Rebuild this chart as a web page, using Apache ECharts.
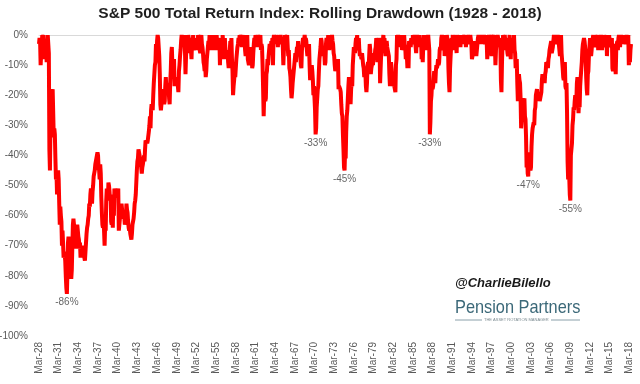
<!DOCTYPE html>
<html>
<head>
<meta charset="utf-8">
<script src="https://cdn.jsdelivr.net/npm/echarts@6/dist/echarts.min.js"></script>
<style>
html,body{margin:0;padding:0;background:#fff;}
#chart{width:640px;height:384px;}
</style>
</head>
<body>
<div id="chart"></div>
<script>
// Monthly rolling drawdown (%) of the S&P 500 total return index, starting Mar-1928
const dd1920s = [
  -3, -1, -2, -10, -6, -3, 0, -2, 0, -8,                // 1928 Mar-Dec
  -2, -4, -8, -2, -9, -3, 0, 0, -6, -38, -45, -30      // 1929
];
const dd1930s = [
  -27, -22, -19, -18, -26, -34, -31, -33, -41, -48, -46, -53, // 1930
  -49, -45, -48, -56, -63, -57, -60, -62, -70, -65, -69, -74, // 1931
  -72, -73, -75, -80, -84, -86, -79, -69, -67, -73, -76, -74, // 1932
  -77, -81, -78, -70, -63, -61, -63, -66, -68, -71, -67, -66, // 1933
  -63, -65, -67, -68, -71, -69, -74, -71, -73, -72, -70, -71, // 1934
  -72, -74, -75, -72, -69, -66, -64, -63, -61, -60, -56, -57, // 1935
  -53, -51, -53, -56, -52, -50, -47, -46, -45, -43, -42, -42, // 1936
  -40, -39, -40, -44, -45, -48, -43, -46, -54, -59, -63, -64, // 1937
  -62, -65, -70, -63, -65, -55, -51, -53, -55, -49, -50, -52, // 1938
  -55, -53, -62, -63, -60, -64, -55, -60, -51, -52, -54, -53  // 1939
];
const dd1940s = [
  -54, -53, -52, -51, -65, -63, -61, -59, -58, -56, -58, -59, // 1940
  -60, -61, -60, -63, -62, -60, -56, -58, -59, -62, -64, -65, // 1941
  -64, -66, -67, -68, -66, -63, -62, -61, -59, -56, -55, -53, // 1942
  -49, -45, -42, -41, -38, -39, -40, -43, -42, -42, -46, -44, // 1943
  -43, -43, -40, -42, -38, -35, -36, -35, -36, -35, -35, -32, // 1944
  -30, -27, -31, -25, -23, -24, -25, -20, -16, -13, -10, -9,  // 1945
  -3, -8, -2, 0, -1, -4, -7, -13, -23, -25, -23, -21,         // 1946
  -18, -19, -21, -23, -22, -17, -14, -18, -19, -16, -18, -17, // 1947
  -21, -23, -16, -12, -6, -4, -10, -13, -12, -8, -17, -15,    // 1948
  -14, -17, -14, -15, -17, -19, -12, -10, -7, -5, -2, 0       // 1949
];
const dd1950s = [
  -1, -3, -1, -4, 0, -5, -13, -7, -3, -1, -4, 0,     // 1950
  -1, -3, -6, -1, -5, -8, -2, -3, 0, -5, -4, -1,     // 1951
  -2, -5, -1, -5, -3, 0, -2, -4, -5, -6, -1, 0,      // 1952
  -3, -4, -6, -9, -10, -12, -10, -14, -12, -8, -6, -4, // 1953
  -2, -4, 0, -3, -5, -1, -2, -5, 0, -3, -1, -2,      // 1954
  -4, -1, -5, 0, -3, -1, -2, -4, -1, -10, -3, -1,    // 1955
  -5, -3, 0, -3, -8, -5, -1, -5, -8, -6, -8, -5,     // 1956
  -9, -11, -8, -5, -2, -4, -1, -8, -12, -20, -17, -15, // 1957
  -12, -14, -11, -8, -6, -4, -3, -1, -3, 0, -2, -1,  // 1958
  0, -4, -1, -2, 0, -4, -1, -5, -7, -5, -3, 0        // 1959
];
const dd1960s = [
  -8, -9, -10, -9, -6, -4, -8, -5, -11, -10, -6, -3,  // 1960
  -1, -3, 0, -2, -1, -4, 0, -2, -4, -1, -2, 0,        // 1961
  -5, -3, -4, -10, -18, -27, -20, -19, -22, -21, -13, -12, // 1962
  -8, -10, -7, -5, -3, -5, -6, -2, -4, -1, -10, -1,   // 1963
  0, -2, -1, -3, 0, -2, -1, -4, 0, -2, -3, -1,        // 1964
  0, -2, -3, -1, -4, -10, -5, -3, 0, -2, -1, -2,      // 1965
  0, -4, -7, -5, -11, -12, -14, -18, -21, -19, -16, -16, // 1966
  -12, -10, -8, -6, -9, -6, -4, -5, -2, -6, -7, -4,   // 1967
  -7, -10, -11, -5, -3, -1, -4, -2, 0, -2, -1, -2,    // 1968
  -5, -7, -6, -4, -3, -10, -15, -12, -13, -10, -12, -15 // 1969
];
const dd1970s = [
  -20, -17, -17, -25, -33, -31, -24, -21, -18, -17, -12, -8, // 1970
  -6, -4, -1, -2, -5, -4, -7, -4, -6, -10, -9, -3,           // 1971
  -1, -2, -4, 0, -3, -5, -3, -1, -4, -2, 0, -2,              // 1972
  -3, -6, -7, -10, -12, -11, -9, -12, -9, -8, -18, -17,      // 1973
  -17, -18, -19, -23, -26, -27, -33, -38, -44, -45, -38, -41, // 1974
  -32, -27, -25, -21, -17, -14, -19, -20, -23, -18, -16, -17, // 1975
  -10, -7, -4, -5, -6, -3, -1, -3, 0, -4, -5, -1,            // 1976
  -5, -7, -6, -7, -8, -6, -8, -10, -11, -14, -11, -12,       // 1977
  -17, -19, -16, -10, -9, -11, -7, -3, -5, -13, -11, -10,    // 1978
  -7, -10, -6, -7, -8, -5, -4, -1, -3, -9, -6, -4            // 1979
];
const dd1980s = [
  -1, -3, -16, -11, -6, -4, -1, -2, 0, -3, -1, -5,     // 1980
  -7, -5, -2, -4, -5, -6, -7, -13, -17, -12, -9, -11,  // 1981
  -14, -17, -16, -13, -17, -18, -19, -10, -8, 0, -2, 0, // 1982
  0, -3, -1, -2, -4, 0, -5, -4, -1, -3, 0, -3,         // 1983
  -4, -8, -6, -7, -11, -9, -11, -2, -3, -2, -4, -1,    // 1984
  -1, -3, 0, -2, -1, 0, -2, -4, -6, -1, 0, -2,         // 1985
  0, -3, 0, -4, -1, -2, -8, -1, -9, -3, 0, -4,         // 1986
  0, -1, -3, -5, -1, -2, 0, 0, -5, -33, -29, -22,      // 1987
  -20, -16, -18, -17, -17, -12, -13, -16, -12, -10, -11, -10, // 1988
  -8, -10, -9, -5, -4, -5, -1, 0, -2, -4, -2, 0        // 1989
];
const dd1990s = [
  -7, -5, -3, -6, 0, -1, -2, -11, -16, -19, -11, -7,   // 1990
  -4, -1, -2, 0, -3, -5, -1, -2, 0, -3, -6, 0,         // 1991
  -2, -1, -3, -2, -1, -4, 0, -3, -1, -3, 0, -1,        // 1992
  0, -3, -1, -4, 0, -2, -3, 0, -2, -1, -3, 0,          // 1993
  0, -3, -8, -7, -5, -7, -5, -2, -5, -3, -7, -5,       // 1994
  -3, -1, 0, -2, -1, 0, -1, -3, 0, -2, 0, -1,          // 1995
  0, -2, -3, 0, -1, -2, -8, -5, -1, 0, -1, -3,         // 1996
  0, -2, -7, -5, 0, -1, 0, -7, -3, -10, -5, -3,        // 1997
  -2, 0, -1, -2, -4, -1, -3, -15, -19, -9, -3, 0,      // 1998
  -1, -4, 0, -2, -5, -1, -4, -6, -7, -4, -2, 0         // 1999
];
const dd2000s = [
  -5, -8, -1, -4, -6, -3, -4, 0, -5, -6, -11, -10,     // 2000
  -8, -16, -22, -14, -13, -15, -16, -21, -31, -28, -22, -21, // 2001
  -23, -25, -21, -27, -28, -34, -44, -39, -46, -47, -39, -42, // 2002
  -43, -45, -44, -37, -33, -31, -30, -29, -30, -25, -24, -20, // 2003
  -19, -18, -20, -21, -20, -19, -22, -21, -20, -19, -15, -13, // 2004
  -15, -13, -14, -16, -13, -12, -9, -10, -9, -11, -8, -7,     // 2005
  -5, -4, -4, -2, -6, -5, -4, -2, 0, -1, -2, 0,        // 2006
  -1, -3, -2, 0, -1, -3, -5, -7, -1, 0, -6, -6,        // 2007
  -11, -14, -15, -10, -9, -17, -18, -16, -26, -42, -48, -42, // 2008
  -47, -53, -55, -40, -38, -36, -30, -28, -24, -25, -22, -20 // 2009
];
const dd2010s = [
  -20, -22, -16, -14, -20, -26, -22, -24, -17, -14, -14, -9, // 2010
  -5, -3, -3, -1, -2, -4, -6, -14, -18, -20, -13, -12,      // 2011
  -7, -4, -1, -3, -7, -5, -2, -1, 0, -3, -4, 0,             // 2012
  -1, -3, 0, -2, -1, -5, 0, -4, -1, -2, 0, -1,              // 2013
  -5, -1, -2, -3, 0, -1, -3, -4, 0, -7, -1, -3,             // 2014
  -4, 0, -3, -1, -2, -4, -1, -11, -12, -4, -3, -5,          // 2015
  -9, -13, -5, -3, -2, -5, -1, 0, -2, -4, -1, 0,            // 2016
  0, -2, -1, -3, 0, -1, -2, -3, -1, 0, -1, -2,              // 2017
  0, -10, -8, -9, -5, -3                                    // 2018 Jan-Jun
];

// x-axis tick labels, one every 36 months from Mar-1928
const tickLabels = ["Mar-28","Mar-31","Mar-34","Mar-37","Mar-40","Mar-43","Mar-46","Mar-49",
  "Mar-52","Mar-55","Mar-58","Mar-61","Mar-64","Mar-67","Mar-70","Mar-73","Mar-76","Mar-79",
  "Mar-82","Mar-85","Mar-88","Mar-91","Mar-94","Mar-97","Mar-00","Mar-03","Mar-06","Mar-09",
  "Mar-12","Mar-15","Mar-18"];

// annotated troughs (year, month)
const troughYears = [1932, 1970, 1974, 1987, 2002, 2009];
const troughMonths = [6, 5, 10, 10, 10, 3];

const title = "S&P 500 Total Return Index: Rolling Drawdown (1928 - 2018)";

const values = [].concat(dd1920s, dd1930s, dd1940s, dd1950s, dd1960s, dd1970s, dd1980s, dd1990s, dd2000s, dd2010s);
const linePts = values.map((v, i) => [i, v]);
const troughPts = troughYears.map((y, k) => {
  const idx = (y - 1928) * 12 + (troughMonths[k] - 3);
  return [idx, values[idx]];
});
const lastIdx = values.length - 1;

const chart = echarts.init(document.getElementById('chart'), null, {renderer: 'canvas'});
const axisFont = {fontFamily: 'Liberation Sans', fontSize: 10, color: '#595959'};

chart.setOption({
  animation: false,
  backgroundColor: '#ffffff',
  title: {
    text: title,
    left: 'center',
    top: 1,
    textStyle: {fontFamily: 'Liberation Sans', fontWeight: 'bold', fontSize: 15.5, color: '#1f1f1f'}
  },
  grid: {left: 39, right: 9, top: 35, bottom: 48, containLabel: false, outerBoundsMode: 'none'},
  xAxis: [{
    type: 'value',
    min: 0, max: lastIdx, interval: 36,
    position: 'bottom',
    axisLine: {show: false},
    axisTick: {show: false},
    splitLine: {show: false},
    axisLabel: Object.assign({
      rotate: 90, margin: 6, showMaxLabel: false,
      padding: [2, 0, 0, 0],
      formatter: (v) => tickLabels[Math.round(v / 36)] || ''
    }, axisFont)
  }, {
    type: 'value',
    min: 0, max: lastIdx,
    position: 'top',
    axisLine: {show: true, onZero: false, lineStyle: {color: '#d9d9d9', width: 1}},
    axisTick: {show: false},
    axisLabel: {show: false},
    splitLine: {show: false}
  }],
  yAxis: {
    type: 'value',
    min: -100, max: 0, interval: 10,
    axisLine: {show: false},
    axisTick: {show: false},
    splitLine: {show: false},
    axisLabel: Object.assign({margin: 11, formatter: (v) => v + '%'}, axisFont)
  },
  series: [{
    type: 'line',
    data: linePts,
    showSymbol: false,
    symbol: 'none',
    lineStyle: {color: '#ff0000', width: 4},
    z: 3
  }, {
    type: 'scatter',
    data: troughPts,
    symbolSize: 1,
    itemStyle: {color: 'rgba(0,0,0,0)'},
    label: {
      show: true, position: 'bottom', distance: 3,
      formatter: (p) => p.value[1] + '%',
      fontFamily: 'Liberation Sans', fontSize: 10, color: '#404040'
    },
    z: 4
  }],
  graphic: [
    {type: 'text', left: 455, top: 277, style: {text: '@CharlieBilello', font: 'italic bold 13px "Liberation Sans"', fill: '#1a1a1a'}},
    {type: 'text', x: 455, y: 298, scaleX: 0.86, style: {text: 'Pension Partners', font: '19px "Liberation Sans"', fill: '#3b6878'}},
    {type: 'line', shape: {x1: 455, y1: 320, x2: 482, y2: 320}, style: {stroke: '#8aa0aa', lineWidth: 1}},
    {type: 'line', shape: {x1: 551, y1: 320, x2: 580, y2: 320}, style: {stroke: '#8aa0aa', lineWidth: 1}},
    {type: 'text', left: 484, top: 318, style: {text: 'THE ASSET ROTATION MANAGER', font: '4px "Liberation Sans"', fill: '#7a8a90'}}
  ]
});
</script>
</body>
</html>
